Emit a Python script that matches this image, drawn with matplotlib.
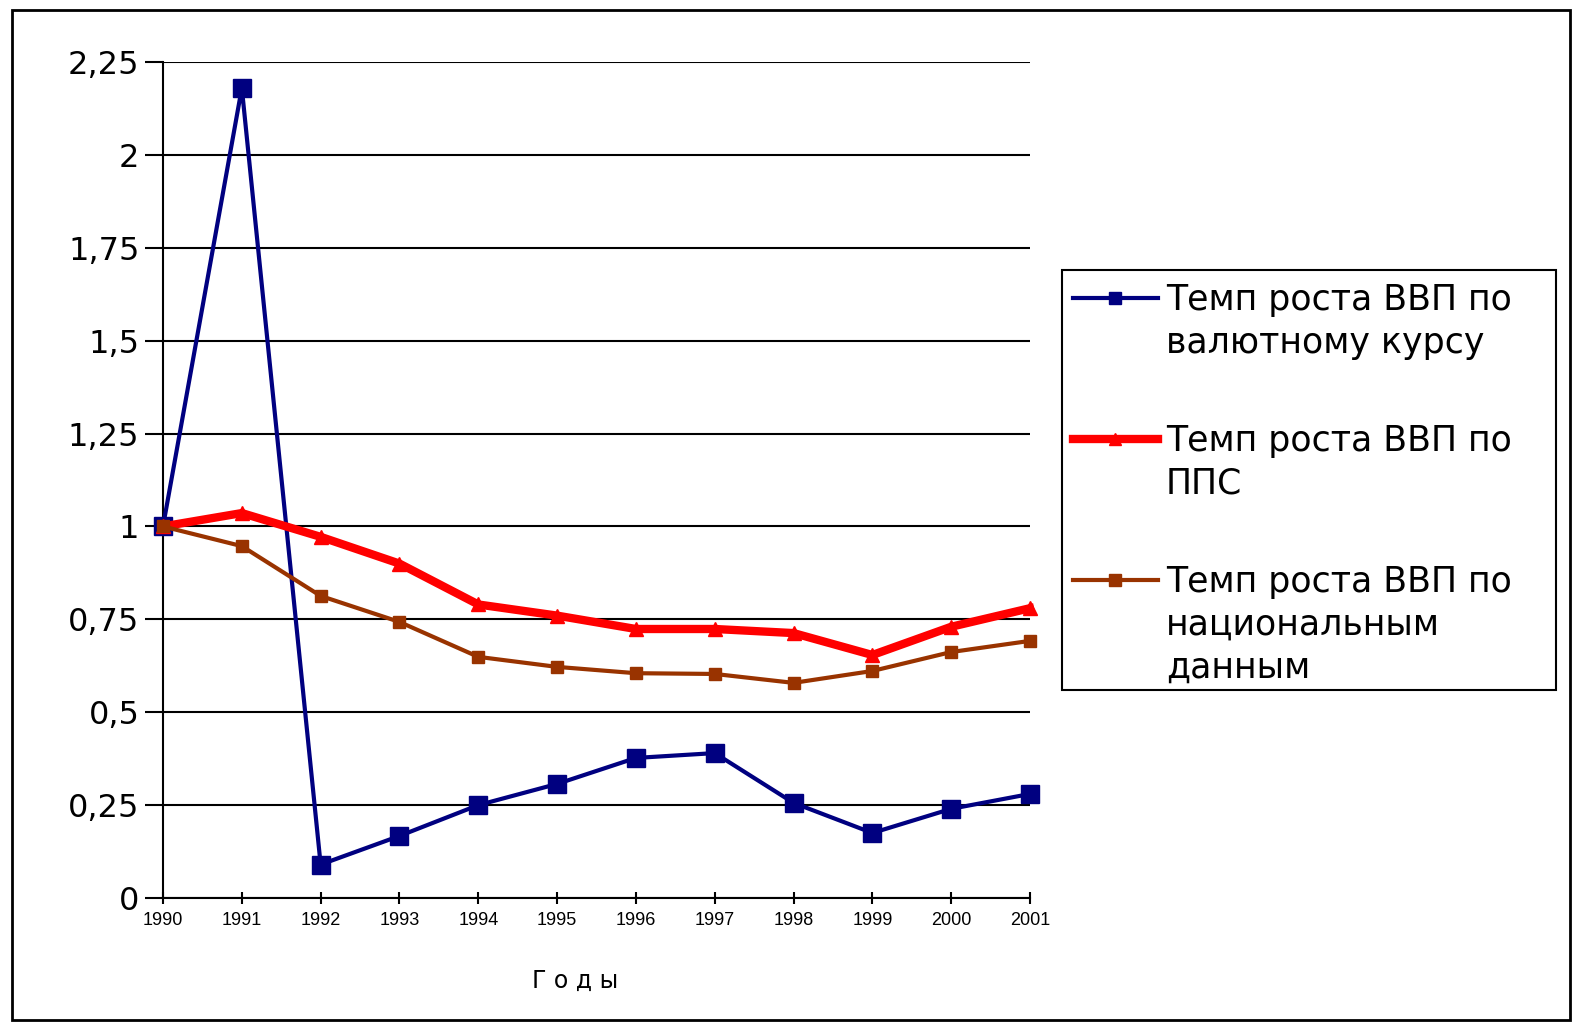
import matplotlib
matplotlib.use("Agg")
import matplotlib.pyplot as plt
from matplotlib.lines import Line2D
from matplotlib.patches import Rectangle
from matplotlib.ticker import FuncFormatter

years = list(range(1990, 2002))
rate_fx = [1.0, 2.18, 0.09, 0.167, 0.25, 0.307, 0.377, 0.39, 0.256, 0.175, 0.24, 0.28]
rate_ppp = [1.0, 1.036, 0.972, 0.90, 0.79, 0.76, 0.724, 0.724, 0.713, 0.654, 0.73, 0.78]
rate_nat = [1.0, 0.947, 0.813, 0.743, 0.649, 0.622, 0.605, 0.603, 0.579, 0.611, 0.662, 0.692]
labels = [
    "Темп роста ВВП по\nвалютному курсу",
    "Темп роста ВВП по\nППС",
    "Темп роста ВВП по\nнациональным\nданным",
]
y_ticks = [0, 0.25, 0.5, 0.75, 1, 1.25, 1.5, 1.75, 2, 2.25]

plt.rcParams["font.family"] = ["DejaVu Sans"]

W, H = 1584, 1027
fig = plt.figure(figsize=(W / 100, H / 100), dpi=100)
fig.patch.set_facecolor("white")
ax = fig.add_axes([163 / W, 1 - 898 / H, (1030 - 163) / W, (898 - 62) / H])

styles = [
    dict(color="#000080", linewidth=3, marker="s", markersize=13),
    dict(color="#FF0000", linewidth=6, marker="^", markersize=10),
    dict(color="#993300", linewidth=3, marker="s", markersize=9),
]
for vals, st in zip([rate_fx, rate_ppp, rate_nat], styles):
    ax.plot(years, vals, zorder=3, clip_on=False, **st)

ax.set_xlim(1990, 2001)
ax.set_ylim(0, 2.25)
ax.set_yticks(y_ticks)
ax.yaxis.set_major_formatter(FuncFormatter(lambda v, p: f"{v:g}".replace(".", ",")))
ax.set_xticks(years)
ax.set_xticklabels([str(y) for y in years], fontsize=13,
                   family=["Liberation Sans Narrow", "Liberation Sans"])
ax.tick_params(axis="y", labelsize=23, length=13, width=1.5, direction="out", pad=4)
ax.tick_params(axis="x", length=8, width=1.5, direction="inout", pad=6)

ax.grid(axis="y", color="black", linewidth=1.5)
ax.set_axisbelow(True)
for s in ["top", "right"]:
    ax.spines[s].set_visible(False)
for s in ["left", "bottom"]:
    ax.spines[s].set_linewidth(1.5)
    ax.spines[s].set_color("black")

ax.set_xlabel("Г о д ы", fontsize=17)
ax.xaxis.set_label_coords(0.475, -0.085)

# legend drawn by hand so the handle sits on the first text line
fig.patches.append(Rectangle((1062 / W, 1 - 690 / H), (1556 - 1062) / W, (690 - 270) / H,
                             transform=fig.transFigure, fill=False,
                             edgecolor="black", linewidth=1.5))
for i, (lab, st) in enumerate(zip(labels, styles)):
    yh = 298 + 141 * i
    fig.add_artist(Line2D([1073 / W, 1158 / W], [1 - yh / H, 1 - yh / H],
                          transform=fig.transFigure, color=st["color"],
                          linewidth=st["linewidth"]))
    fig.add_artist(Line2D([1115 / W], [1 - yh / H], transform=fig.transFigure,
                          color=st["color"], marker=st["marker"], markersize=9,
                          linestyle="none"))
    fig.text(1166 / W, 1 - (yh - 15) / H, lab, fontsize=25, va="top", ha="left",
             linespacing=1.32)

fig.patches.append(Rectangle((12 / W, 7 / H), 1558 / W, 1010 / H,
                             transform=fig.transFigure, fill=False,
                             edgecolor="black", linewidth=2))

fig.savefig("out.png", dpi=100, facecolor="white")
